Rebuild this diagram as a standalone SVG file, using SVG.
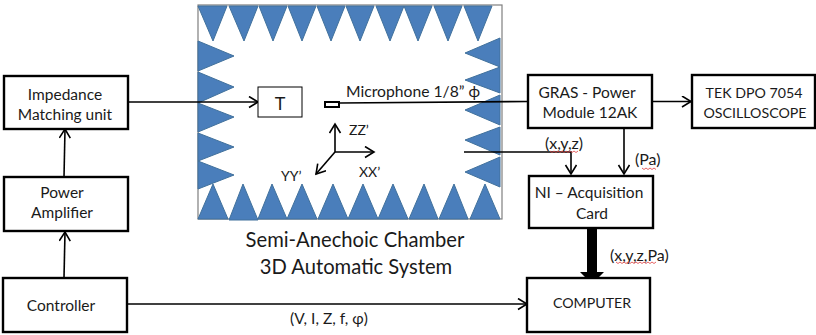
<svg xmlns="http://www.w3.org/2000/svg" width="816" height="335" viewBox="0 0 816 335">
<style>
.box{fill:#fff;stroke:#000;stroke-width:2.4}
.t{font-family:"Lato","Open Sans",sans-serif;font-size:15.500px;fill:#1a1a1a;text-anchor:middle}
.cap{font-size:14.200px}
.tl{font-family:"Lato","Open Sans",sans-serif;font-size:14px;fill:#1a1a1a}
.ll{font-family:"Lato","Open Sans",sans-serif;font-size:16px;fill:#1a1a1a}
.big{font-family:"Lato","Open Sans",sans-serif;font-size:20.200px;fill:#1a1a1a;text-anchor:middle}
.w{fill:#4a7ebb;stroke:#41719c;stroke-width:1}
.c{fill:none;stroke:#000;stroke-width:1.6}
.sq{fill:none;stroke:#e03c3c;stroke-width:.8}
</style>
<defs>
<marker id="a" markerUnits="userSpaceOnUse" markerWidth="14" markerHeight="14" refX="10" refY="6" orient="auto"><path d="M1 0.5L10 6L1 11.5" fill="none" stroke="#000" stroke-width="1.6"/></marker>
</defs>
<g id="chamber">
<rect x="198" y="5" width="304" height="214" fill="#fff" stroke="#7f7f7f" stroke-width="1.2"/>
<g class="w">
<path d="M198 6h29l-14 35zM229 6h29l-14 35zM259 6h28l-14 35zM288 6h28l-14 35zM317 6h28l-14 35zM346 6h28l-14 35zM376 6h28l-14 35zM404 6h28l-14 35zM434 6h28l-14 35zM464 6h28l-14 35z"/>
<path d="M198 41l36 15l-36 15zM198 72l36 15l-36 16zM198 103l36 14l-36 15zM198 133l36 14l-36 14zM198 161l36 14l-36 14z"/>
<path d="M500 38l-35 15l35 14zM500 67l-35 13l35 13zM500 95l-35 15l35 15zM500 127l-35 13l35 15zM500 157l-35 15l35 15z"/>
<path d="M198 219l15-35l15 35zM229 220l14-36l15 36zM258 219l14-35l15 35zM287 219l15-35l15 35zM318 219l15-35l15 35zM348 219l15-35l15 35zM378 219l15-35l15 35zM409 219l15-35l14 35zM439 219l15-35l14 35zM470 219l15-35l15 35z"/>
</g>
<text class="big" x="355" y="247">Semi-Anechoic Chamber</text>
<text class="big" x="356" y="274">3D Automatic System</text>
</g>
<g id="axes">
<path class="c" d="M335 152V124" marker-end="url(#a)"/>
<path class="c" d="M335 152H374" marker-end="url(#a)"/>
<path class="c" d="M335 152L316 174" marker-end="url(#a)"/>
<text class="tl" x="349" y="135">ZZ’</text>
<text class="tl" x="359" y="177">XX’</text>
<text class="tl" x="281" y="181">YY’</text>
</g>
<g id="connectors">
<path class="c" d="M128 102H258" marker-end="url(#a)"/>
<path class="c" d="M64 177L65 129" marker-end="url(#a)"/>
<path class="c" d="M64 278L65 232" marker-end="url(#a)"/>
<path class="c" d="M128 304H527" marker-end="url(#a)"/>
<path class="c" d="M340 103L528 101.500"/>
<path class="c" d="M652 101.500H691" marker-end="url(#a)"/>
<path class="c" d="M624 128V174" marker-end="url(#a)"/>
<path class="c" d="M464 152H571V174" marker-end="url(#a)"/>
<path d="M587 228H597V272H604L592 284L580 272H587Z" fill="#000"/>
</g>
<g id="t-box"><rect x="258" y="87" width="44" height="30" fill="#fff" stroke="#000" stroke-width="1"/><text x="280" y="110" font-family="Lato,sans-serif" font-size="18" text-anchor="middle" fill="#1a1a1a">T</text></g>
<g id="microphone"><rect x="325" y="102" width="14" height="5" fill="#fff" stroke="#000" stroke-width="2"/><text class="t" x="346" y="97" style="text-anchor:start;font-size:15.700px">Microphone 1/8” ϕ</text></g>
<g id="impedance"><rect class="box" x="4" y="76" width="124" height="53"/><text class="t" x="65" y="100">Impedance</text><text class="t" x="65" y="120">Matching unit</text></g>
<g id="amplifier"><rect class="box" x="4" y="177" width="124" height="54"/><text class="t" x="62" y="198">Power</text><text class="t" x="62" y="218">Amplifier</text></g>
<g id="controller"><rect class="box" x="3" y="278" width="124" height="54"/><text class="t" x="61" y="311">Controller</text></g>
<g id="gras"><rect class="box" x="528" y="75" width="124" height="53"/><text class="t" x="587" y="98">GRAS - Power</text><text class="t" x="590" y="118">Module 12AK</text></g>
<g id="tek"><rect class="box" x="692" y="75" width="123" height="53"/><text class="t cap" x="754" y="98">TEK DPO 7054</text><text class="t cap" x="755" y="118">OSCILLOSCOPE</text></g>
<g id="ni"><rect class="box" x="529" y="176" width="124" height="52"/><text class="t" x="589" y="198">NI – Acquisition</text><text class="t" x="592" y="219">Card</text></g>
<g id="computer"><rect class="box" x="527" y="278" width="123" height="54"/><text class="t cap" x="592" y="308">COMPUTER</text></g>
<g id="labels">
<text class="ll" x="545" y="149">(x,y,z)</text>
<path class="sq" d="M550 151l2 1.500 2-1.500 2 1.500 2-1.500 2 1.500 2-1.500 2 1.500 2-1.500 2 1.500 2-1.500 2 1.500 2-1.500 2 1.500 2-1.500"/>
<text class="ll" x="635" y="165">(Pa)</text>
<path class="sq" d="M642 168l2 1.500 2-1.500 2 1.500 2-1.500 2 1.500 2-1.500 2 1.500"/>
<text class="ll" x="610" y="261">(x,y,z,Pa)</text>
<path class="sq" d="M616 262l2 1.500 2-1.500 2 1.500 2-1.500 2 1.500 2-1.500 2 1.500 2-1.500 2 1.500 2-1.500 2 1.500 2-1.500 2 1.500 2-1.500 2 1.500 2-1.500 2 1.500 2-1.500 2 1.500 2-1.500"/>
<text class="ll" x="290" y="324" style="font-size:15.500px">(V, I, Z, f, φ)</text>
</g>
</svg>
